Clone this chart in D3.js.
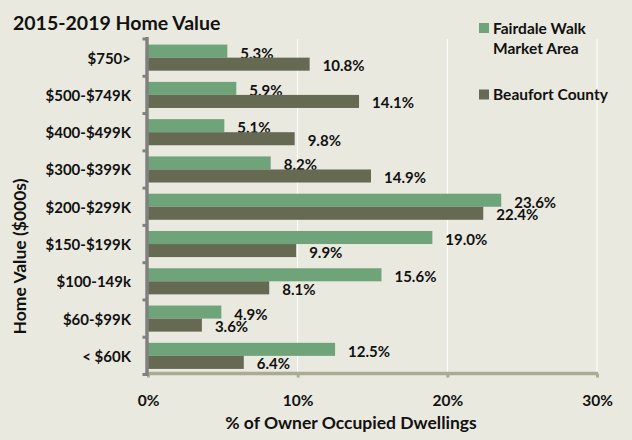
<!DOCTYPE html>
<html>
<head>
<meta charset="utf-8">
<script src="https://cdn.jsdelivr.net/npm/d3@7"></script>
<style>
  body { margin: 0; background: #eae9df; }
  svg { display: block; font-family: Lato, "Open Sans", sans-serif; font-weight: bold; }
</style>
</head>
<body>
<svg id="chart" width="632" height="440"></svg>
<script>
// chart values
const categories = ["$750>", "$500-$749K", "$400-$499K", "$300-$399K", "$200-$299K",
                    "$150-$199K", "$100-149k", "$60-$99K", "< $60K"];
const seriesNames = ["Fairdale Walk Market Area", "Beaufort County"];
const fairdale = [5.3, 5.9, 5.1, 8.2, 23.6, 19.0, 15.6, 4.9, 12.5];
const beaufort = [10.8, 14.1, 9.8, 14.9, 22.4, 9.9, 8.1, 3.6, 6.4];
const xTicks = [0, 10, 20, 30];

const colors = ["#6fa47a", "#666a53"];

const svg = d3.select("#chart");
const W = 632, H = 440;

svg.append("rect").attr("width", W).attr("height", H).attr("fill", "#eae9df");

const x = d3.scaleLinear().domain([0, 30]).range([148, 597]);
const y = d3.scaleBand().domain(categories).range([39, 374.5])
    .paddingInner(0.3).paddingOuter(0.15);
const ySub = d3.scaleBand().domain([0, 1]).range([0, y.bandwidth()]);

const rows = categories.map((c, i) => ({ cat: c, vals: [fairdale[i], beaufort[i]] }));

// gridlines
svg.append("g").selectAll("line").data(xTicks.slice(1)).join("line")
    .attr("x1", d => x(d)).attr("x2", d => x(d))
    .attr("y1", 39).attr("y2", 373)
    .attr("stroke", "#ffffff").attr("stroke-width", 1);

// value labels (drawn under the bars, like the original)
const groups = svg.append("g").selectAll("g").data(rows).join("g")
    .attr("transform", d => `translate(0,${y(d.cat)})`);

groups.selectAll("text").data(d => d.vals).join("text")
    .attr("x", d => x(d) + 13)
    .attr("y", (d, i) => ySub(i) + ySub.bandwidth() / 2 + (i === 0 ? 1.5 : 1))
    .attr("dominant-baseline", "central")
    .attr("font-size", 15)
    .attr("fill", "#111")
    .text(d => d.toFixed(1) + "%");

groups.selectAll("rect").data(d => d.vals).join("rect")
    .attr("x", x(0))
    .attr("y", (d, i) => ySub(i))
    .attr("width", d => x(d) - x(0))
    .attr("height", ySub.bandwidth())
    .attr("fill", (d, i) => colors[i]);

// bottom axis
const xAxis = svg.append("g").attr("transform", "translate(0,373.5)")
    .call(d3.axisBottom(x).tickValues(xTicks).tickSize(4).tickFormat(d => d + "%"));
xAxis.select(".domain").attr("stroke", "#a9ab95").attr("stroke-width", 3.5)
    .attr("d", `M${x(0) - 2},0H${x(30) + 1}`);
xAxis.selectAll(".tick line").attr("stroke", "#a9ab95").attr("stroke-width", 3);
xAxis.selectAll(".tick text")
    .attr("y", 32).attr("dy", "0")
    .attr("font-size", 15.5).attr("font-family", "Lato, sans-serif").attr("font-weight", "bold")
    .attr("fill", "#111");

// left axis
const bounds = [y.range()[0], ...categories.map(c => y(c) - y.step() * y.paddingInner() / 2).slice(1), y.range()[1]];
const yAxis = svg.append("g");
yAxis.selectAll("line.tk").data(bounds).join("line").attr("class", "tk")
    .attr("x1", 142.5).attr("x2", 147)
    .attr("y1", d => d).attr("y2", d => d)
    .attr("stroke", "#808080").attr("stroke-width", 3);
yAxis.append("line")
    .attr("x1", 147).attr("x2", 147)
    .attr("y1", 37).attr("y2", 376)
    .attr("stroke", "#808080").attr("stroke-width", 3.5);
yAxis.selectAll("text").data(categories).join("text")
    .attr("x", 131)
    .attr("y", d => y(d) + y.bandwidth() / 2)
    .attr("dominant-baseline", "central")
    .attr("text-anchor", "end")
    .attr("font-size", 15)
    .attr("fill", "#111")
    .text(d => d);

// titles
svg.append("text").attr("x", 13).attr("y", 29.5)
    .attr("font-size", 19.5).attr("fill", "#111")
    .text("2015-2019 Home Value");

svg.append("text").attr("x", 351).attr("y", 428.5)
    .attr("text-anchor", "middle").attr("font-size", 17.5).attr("fill", "#111")
    .text("% of Owner Occupied Dwellings");

svg.append("text")
    .attr("transform", "translate(26,256.5) rotate(-90)")
    .attr("text-anchor", "middle").attr("font-size", 17.5).attr("fill", "#111")
    .text("Home Value ($000s)");

// legend
const legendRows = [["Fairdale Walk", "Market Area"], ["Beaufort County"]];
const legend = svg.append("g");
legendRows.forEach((lines, i) => {
  const top = i === 0 ? 23 : 89.5;
  legend.append("rect").attr("x", 479).attr("y", top)
      .attr("width", 10).attr("height", 10).attr("fill", colors[i]);
  lines.forEach((t, j) => {
    legend.append("text").attr("x", 493).attr("y", top + 10.5 + j * 20)
        .attr("font-size", 15.5).attr("fill", "#111").text(t);
  });
});
</script>
</body>
</html>
